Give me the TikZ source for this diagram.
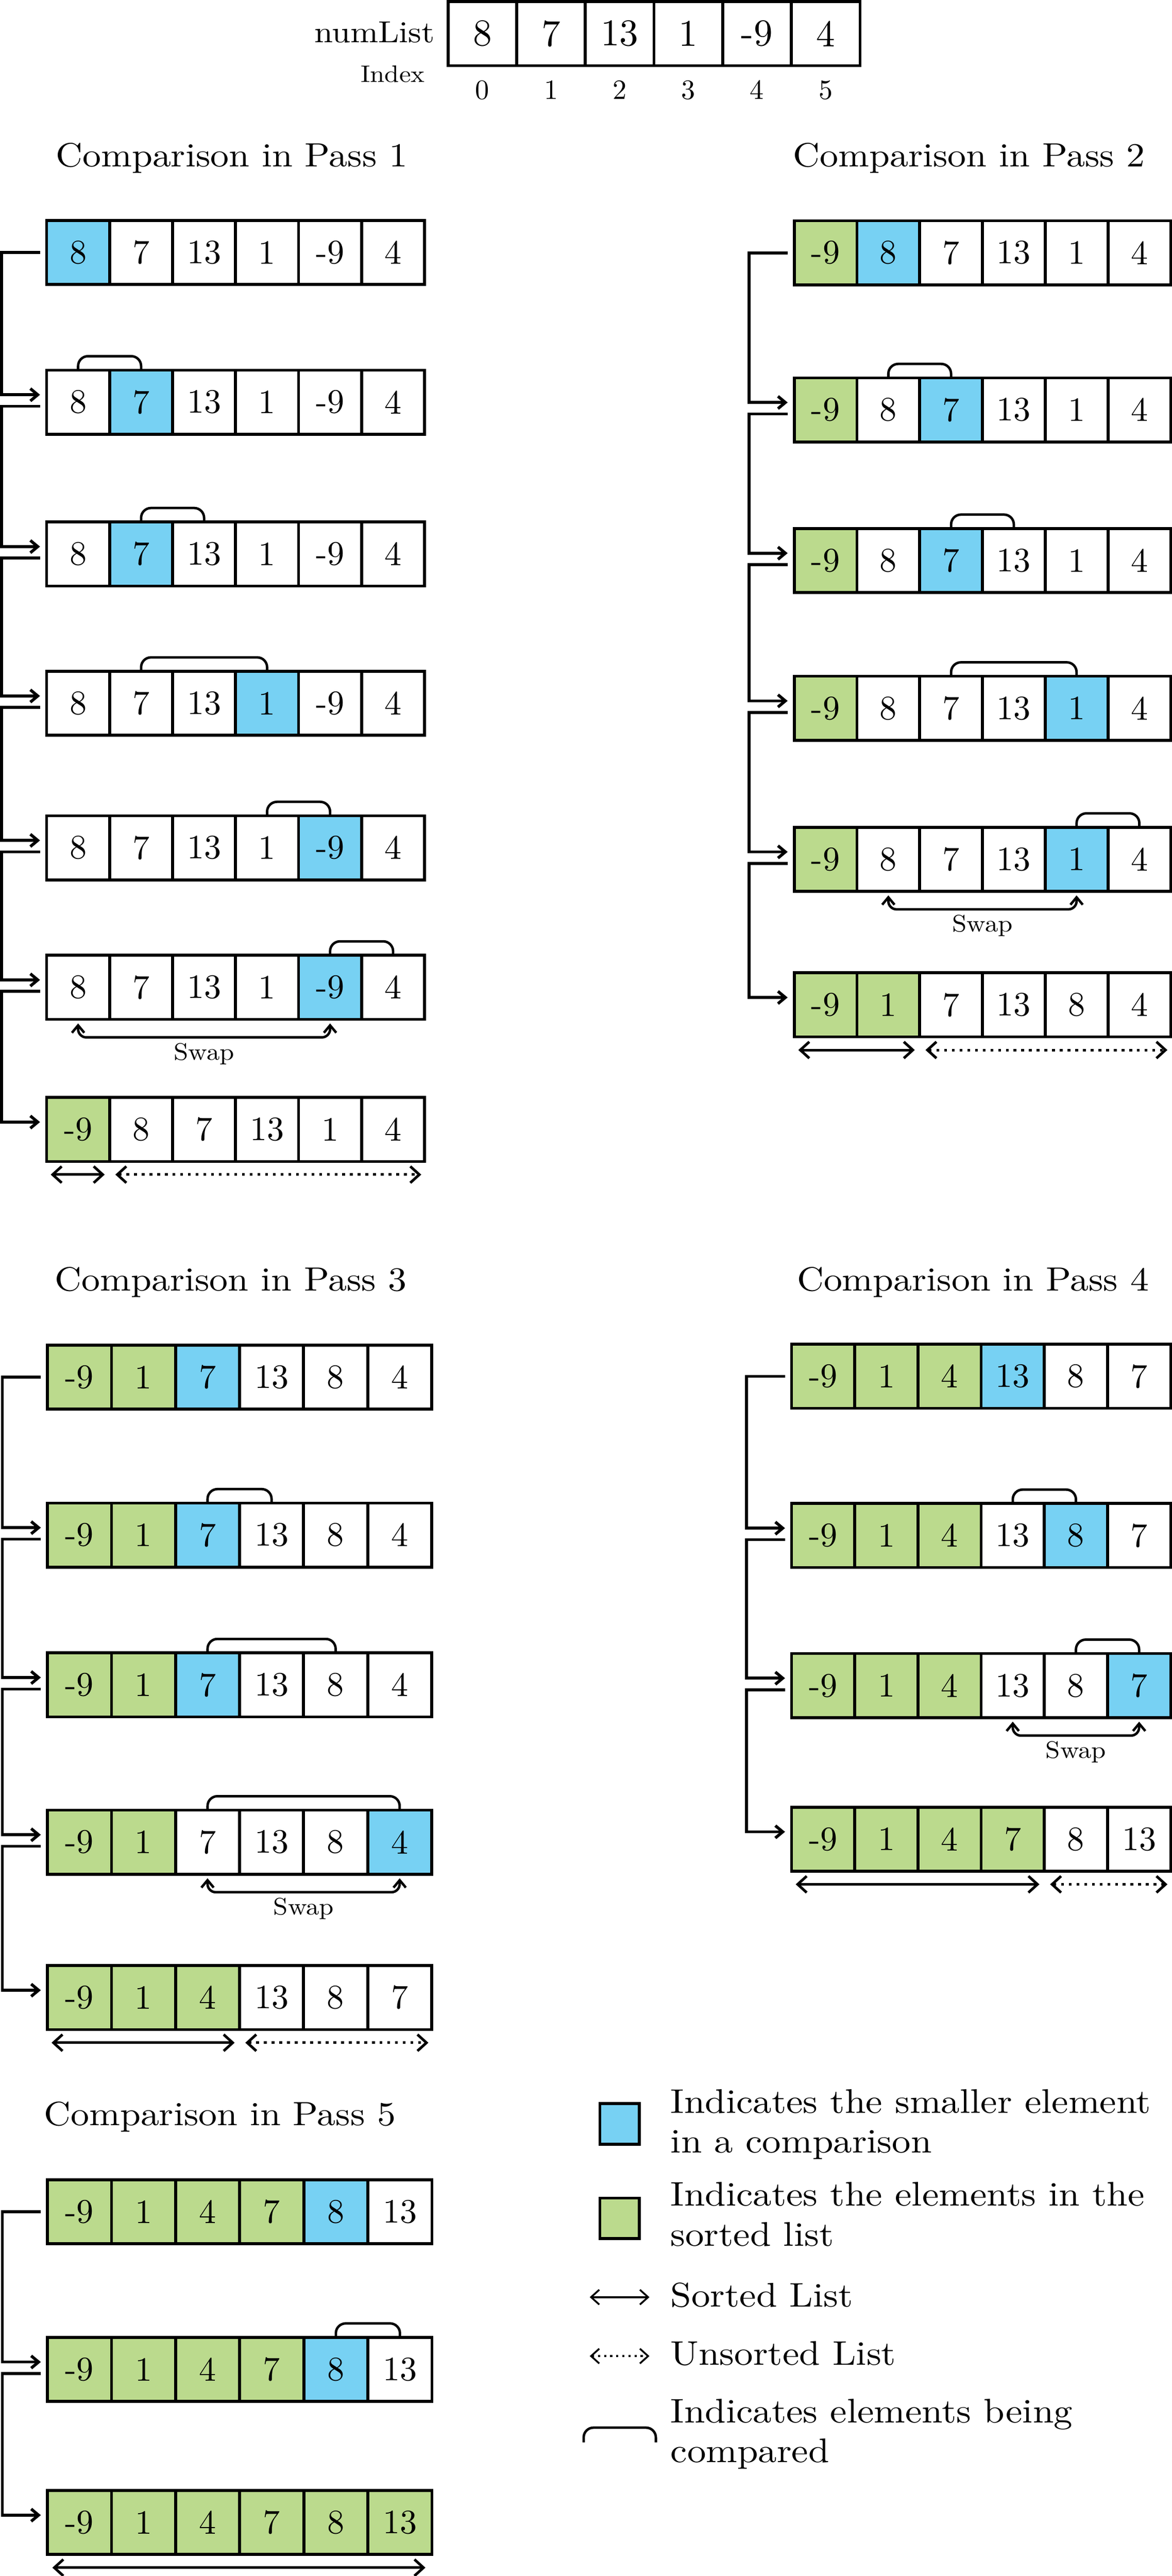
\documentclass[tikz,border=0pt]{standalone}
\usepackage{fontspec}
\setmainfont{lmroman10-regular.otf}
\newfontfamily\txtfont{lmroman10-regular.otf}[FakeStretch=1.1]
\usetikzlibrary{arrows.meta,calc}
\definecolor{cblue}{HTML}{77D1F3}
\definecolor{cgreen}{HTML}{BBDA8D}
\colorlet{W}{white}
\colorlet{B}{cblue}
\colorlet{G}{cgreen}
\tikzset{
 cell/.style={draw, line width=1.8pt, inner sep=0pt, outer sep=0pt, minimum height=39pt, font=\fontsize{20.8}{24}\selectfont},
 hcell/.style={cell, minimum width=41.83pt, minimum height=39pt, font=\fontsize{23}{27}\selectfont},
 conn/.style={line width=1.8pt, -{Straight Barb[length=4.5pt,width=7.5pt]}},
 cmp/.style={line width=1.5pt, rounded corners=6pt},
 swp/.style={line width=1.5pt, rounded corners=5pt, {Straight Barb[length=4.5pt,width=7.5pt]}-{Straight Barb[length=4.5pt,width=7.5pt]}},
 srt/.style={line width=1.6pt, {Straight Barb[length=5.5pt,width=10pt]}-{Straight Barb[length=5.5pt,width=10pt]}},
 uns/.style={srt, dash pattern=on 1.7pt off 3pt},
 lsrt/.style={line width=1.1pt, {Straight Barb[length=5pt,width=9pt]}-{Straight Barb[length=5pt,width=9pt]}},
 luns/.style={lsrt, dash pattern=on 1.3pt off 2.4pt},
 ttl/.style={anchor=base, inner sep=0pt, font=\txtfont\fontsize{20.5}{24}\selectfont},
 swt/.style={inner sep=0pt, font=\txtfont\fontsize{14.5}{17}\selectfont},
 leg/.style={anchor=base west, inner sep=0pt, font=\txtfont\fontsize{20.8}{24}\selectfont},
 legbox/.style={draw, line width=1.8pt, minimum width=24pt, minimum height=24.7pt, inner sep=0pt},
}
% #1 name, #2 x left, #3 y top, #4 cell width, #5 value/fill list
\newcommand\brow[5]{%
 \foreach \v/\f [count=\i from 0] in {#5}{%
   \node[cell, fill=\f, minimum width=#4pt] (#1c\i) at ({#2+(\i+0.5)*#4},{#3+19.5}) {\v};
 }}
% #1 from row, #2 to row, #3 vertical offset of outgoing line
\newcommand\link[3]{\draw[conn] ($(#1c0.west)+(-4,#3)$) -- ++(-23.5,0) |- ($(#2c0.west)+(-4,-4.5)$);}
\newcommand\cmpb[3]{\draw[cmp] (#1c#2.north) -- ++(0,-8.5) -| (#1c#3.north);}
\newcommand\swapb[4]{%
 \draw[swp] ($(#1c#2.south)+(0,2.5)$) -- ++(0,8.5) -| ($(#1c#3.south)+(0,2.5)$);
 \node[swt] (#4) at ($(#1c#2.south)!0.5!(#1c#3.south)+(0,21)$) {Swap};}
% #1 row, #2 last sorted cell, #3 last cell
\newcommand\sortb[3]{%
 \draw[srt] ($(#1c0.south west)+(2.5,8)$) -- ($(#1c#2.south east)+(-3,8)$);}
\newcommand\unsortb[3]{%
 \draw[uns] ($(#1c#2.south west)+(3.5,8)$) -- ($(#1c#3.south east)+(-2,8)$);}
\begin{document}
\begin{tikzpicture}[x=1pt,y=-1pt]
\path[use as bounding box] (0,0) rectangle (714,1569.4);

% ---------- header ----------
\foreach \v [count=\i from 0] in {8,7,13,1,-9,4}{
  \node[hcell] (hc\i) at ({273+(\i+0.5)*41.83},20.5) {\v};
  \node[anchor=base, inner sep=0pt, font=\fontsize{17}{20}\selectfont] (hi\i) at ({273+(\i+0.5)*41.83},60.5) {\number\numexpr\i\relax};
}
\node[anchor=base east, inner sep=0pt, font=\txtfont\fontsize{18.5}{22}\selectfont] (numlist) at (265,26) {numList};
\node[anchor=base east, inner sep=0pt, font=\txtfont\fontsize{14.5}{17}\selectfont] (index) at (259,50) {Index};

% ---------- Pass 1 ----------
\node[ttl] (t1) at (141.2,101.4) {Comparison in Pass 1};
\brow{p1r1}{28.4}{134.3}{38.38}{8/B,7/W,13/W,1/W,-9/W,4/W}
\brow{p1r2}{28.4}{225.5}{38.38}{8/W,7/B,13/W,1/W,-9/W,4/W}
\brow{p1r3}{28.4}{318}{38.38}{8/W,7/B,13/W,1/W,-9/W,4/W}
\brow{p1r4}{28.4}{409}{38.38}{8/W,7/W,13/W,1/B,-9/W,4/W}
\brow{p1r5}{28.4}{497}{38.38}{8/W,7/W,13/W,1/W,-9/B,4/W}
\brow{p1r6}{28.4}{582}{38.38}{8/W,7/W,13/W,1/W,-9/B,4/W}
\brow{p1r7}{28.4}{668.6}{38.38}{-9/G,8/W,7/W,13/W,1/W,4/W}
\link{p1r1}{p1r2}{0}
\link{p1r2}{p1r3}{2.5}
\link{p1r3}{p1r4}{2.5}
\link{p1r4}{p1r5}{2.5}
\link{p1r5}{p1r6}{2.5}
\link{p1r6}{p1r7}{2.5}
\cmpb{p1r2}{0}{1}
\cmpb{p1r3}{1}{2}
\cmpb{p1r4}{1}{3}
\cmpb{p1r5}{3}{4}
\cmpb{p1r6}{4}{5}
\swapb{p1r6}{0}{4}{p1sw}
\sortb{p1r7}{0}{5}
\unsortb{p1r7}{1}{5}

% ---------- Pass 2 ----------
\node[ttl] (t2) at (590.5,101.4) {Comparison in Pass 2};
\brow{p2r1}{483.9}{134.5}{38.23}{-9/G,8/B,7/W,13/W,1/W,4/W}
\brow{p2r2}{483.9}{230.2}{38.23}{-9/G,8/W,7/B,13/W,1/W,4/W}
\brow{p2r3}{483.9}{322}{38.23}{-9/G,8/W,7/B,13/W,1/W,4/W}
\brow{p2r4}{483.9}{412}{38.23}{-9/G,8/W,7/W,13/W,1/B,4/W}
\brow{p2r5}{483.9}{504}{38.23}{-9/G,8/W,7/W,13/W,1/B,4/W}
\brow{p2r6}{483.9}{592.7}{38.23}{-9/G,1/G,7/W,13/W,8/W,4/W}
\link{p2r1}{p2r2}{0}
\link{p2r2}{p2r3}{2.5}
\link{p2r3}{p2r4}{2.5}
\link{p2r4}{p2r5}{2.5}
\link{p2r5}{p2r6}{2.5}
\cmpb{p2r2}{1}{2}
\cmpb{p2r3}{2}{3}
\cmpb{p2r4}{2}{4}
\cmpb{p2r5}{4}{5}
\swapb{p2r5}{1}{4}{p2sw}
\sortb{p2r6}{1}{5}
\unsortb{p2r6}{2}{5}

% ---------- Pass 3 ----------
\node[ttl] (t3) at (140.7,786.5) {Comparison in Pass 3};
\brow{p3r1}{28.9}{819.5}{39.02}{-9/G,1/G,7/B,13/W,8/W,4/W}
\brow{p3r2}{28.9}{915.7}{39.02}{-9/G,1/G,7/B,13/W,8/W,4/W}
\brow{p3r3}{28.9}{1007}{39.02}{-9/G,1/G,7/B,13/W,8/W,4/W}
\brow{p3r4}{28.9}{1102.8}{39.02}{-9/G,1/G,7/W,13/W,8/W,4/B}
\brow{p3r5}{28.9}{1197.5}{39.02}{-9/G,1/G,4/G,13/W,8/W,7/W}
\link{p3r1}{p3r2}{0}
\link{p3r2}{p3r3}{2.5}
\link{p3r3}{p3r4}{2.5}
\link{p3r4}{p3r5}{2.5}
\cmpb{p3r2}{2}{3}
\cmpb{p3r3}{2}{4}
\cmpb{p3r4}{2}{5}
\swapb{p3r4}{2}{5}{p3sw}
\sortb{p3r5}{2}{5}
\unsortb{p3r5}{3}{5}

% ---------- Pass 4 ----------
\node[ttl] (t4) at (592.8,786.5) {Comparison in Pass 4};
\brow{p4r1}{482.3}{819}{38.5}{-9/G,1/G,4/G,13/B,8/W,7/W}
\brow{p4r2}{482.3}{916}{38.5}{-9/G,1/G,4/G,13/W,8/B,7/W}
\brow{p4r3}{482.3}{1007.4}{38.5}{-9/G,1/G,4/G,13/W,8/W,7/B}
\brow{p4r4}{482.3}{1101}{38.5}{-9/G,1/G,4/G,7/G,8/W,13/W}
\link{p4r1}{p4r2}{0}
\link{p4r2}{p4r3}{2.5}
\link{p4r3}{p4r4}{2.5}
\cmpb{p4r2}{3}{4}
\cmpb{p4r3}{4}{5}
\swapb{p4r3}{3}{5}{p4sw}
\sortb{p4r4}{3}{5}
\unsortb{p4r4}{4}{5}

% ---------- Pass 5 ----------
\node[ttl] (t5) at (134,1294.9) {Comparison in Pass 5};
\brow{p5r1}{28.9}{1328}{39.05}{-9/G,1/G,4/G,7/G,8/B,13/W}
\brow{p5r2}{28.9}{1424}{39.05}{-9/G,1/G,4/G,7/G,8/B,13/W}
\brow{p5r3}{28.9}{1517.3}{39.05}{-9/G,1/G,4/G,7/G,8/G,13/G}
\link{p5r1}{p5r2}{0}
\link{p5r2}{p5r3}{2.5}
\cmpb{p5r2}{4}{5}
\draw[srt] ($(p5r3c0.south west)+(3,8)$) -- ($(p5r3c5.south east)+(-4,8)$);

% ---------- Legend ----------
\node[legbox, fill=cblue] (lgblue) at (377.5,1294) {};
\node[leg] (lgb1) at (408.4,1287.3) {Indicates the smaller element};
\node[leg] (lgb2) at (408.4,1311.5) {in a comparison};
\node[legbox, fill=cgreen] (lggreen) at (377.5,1351.5) {};
\node[leg] (lgg1) at (408.4,1344) {Indicates the elements in the};
\node[leg] (lgg2) at (408.4,1368.2) {sorted list};
\coordinate (lsa) at (359.3,1399.5);
\coordinate (lsb) at (395.7,1399.5);
\draw[lsrt] (lsa) -- (lsb);
\node[leg] (lgs) at (408.4,1405.4) {Sorted List};
\coordinate (lua) at (359.3,1435.4);
\coordinate (lub) at (395.7,1435.4);
\draw[luns] (lua) -- (lub);
\node[leg] (lgu) at (408.4,1441) {Unsorted List};
\coordinate (lca) at (355.6,1488);
\coordinate (lcb) at (399.6,1488);
\draw[cmp] (lca) -- ++(0,-9) -| (lcb);
\node[leg] (lgc1) at (408.4,1475.9) {Indicates elements being};
\node[leg] (lgc2) at (408.4,1500.2) {compared};
\end{tikzpicture}
\end{document}
